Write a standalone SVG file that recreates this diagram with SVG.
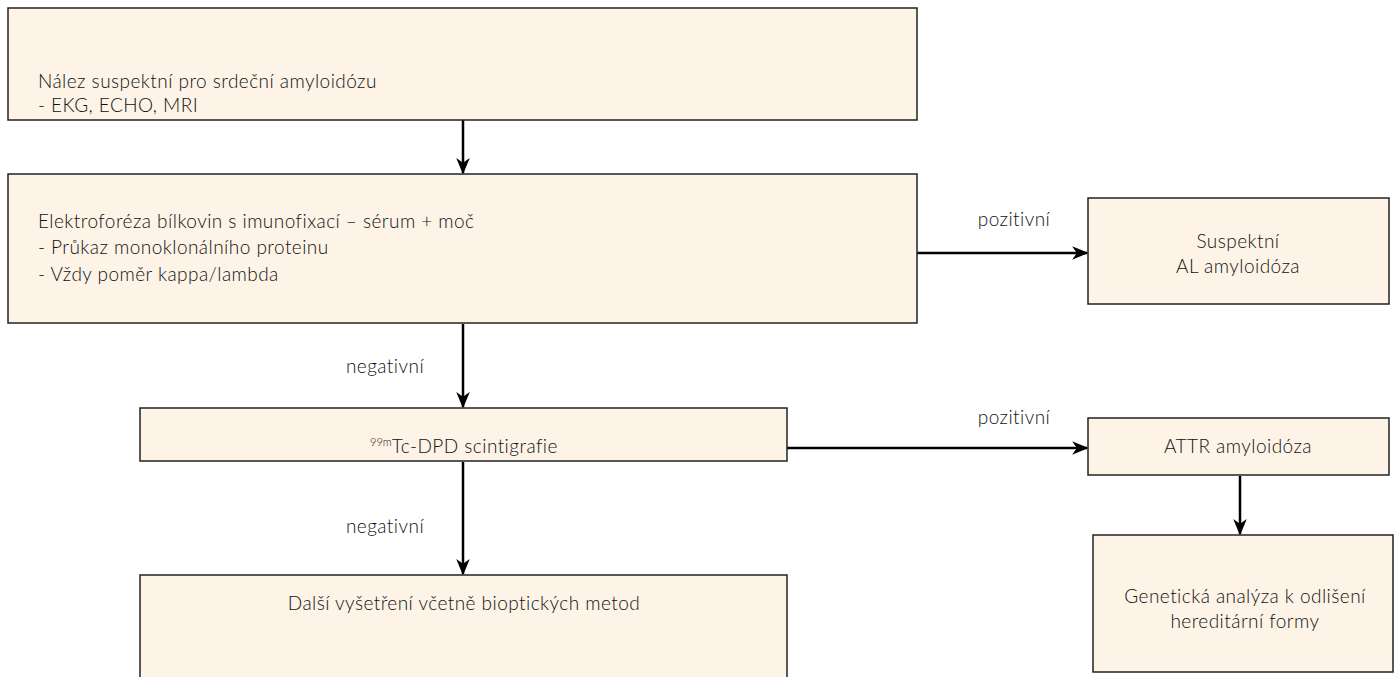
<svg xmlns="http://www.w3.org/2000/svg" width="1397" height="677" viewBox="0 0 1397 677">
<defs>
<style>
.box{fill:#fdf3e7;stroke:#222;stroke-width:1.5}
.t{font-family:Lato,"Open Sans",sans-serif;font-weight:300;font-size:19px;letter-spacing:0.45px;fill:#111}
.c{text-anchor:middle}
.edge{stroke:#000;stroke-width:2.5;fill:none}
</style>
<marker id="ah" viewBox="0 0 12 10" refX="11" refY="5" markerWidth="6.5" markerHeight="5.5" markerUnits="strokeWidth" orient="auto">
<path d="M0,0 L12,5 L0,10 L3.5,5 z" fill="#000"/>
</marker>
</defs>
<rect width="1397" height="677" fill="#fff"/>
<g id="connectors">
<line class="edge" x1="463" y1="120" x2="463" y2="173" marker-end="url(#ah)"/>
<line class="edge" x1="917" y1="253" x2="1087" y2="253" marker-end="url(#ah)"/>
<line class="edge" x1="463" y1="324" x2="463" y2="407" marker-end="url(#ah)"/>
<line class="edge" x1="787" y1="448" x2="1087" y2="448" marker-end="url(#ah)"/>
<line class="edge" x1="1240" y1="476" x2="1240" y2="534" marker-end="url(#ah)"/>
<line class="edge" x1="463" y1="462" x2="463" y2="574" marker-end="url(#ah)"/>
<text class="t c" x="1014" y="226">pozitivní</text>
<text class="t c" x="385" y="373">negativní</text>
<text class="t c" x="1014" y="424">pozitivní</text>
<text class="t c" x="385" y="533">negativní</text>
</g>
<g id="n1">
<rect class="box" x="8" y="8" width="909" height="112"/>
<text class="t" x="38" y="88">Nález suspektní pro srdeční amyloidózu</text>
<text class="t" x="38" y="112">- EKG, ECHO, MRI</text>
</g>
<g id="n2">
<rect class="box" x="8" y="174" width="909" height="149"/>
<text class="t" x="38" y="228">Elektroforéza bílkovin s imunofixací – sérum + moč</text>
<text class="t" x="38" y="254">- Průkaz monoklonálního proteinu</text>
<text class="t" x="38" y="281">- Vždy poměr kappa/lambda</text>
</g>
<g id="n3">
<rect class="box" x="1088" y="198" width="301" height="106"/>
<text class="t c" x="1238" y="248">Suspektní</text>
<text class="t c" x="1238" y="273">AL amyloidóza</text>
</g>
<g id="n4">
<rect class="box" x="140" y="408" width="647" height="53"/>
<text class="t c" x="464" y="453"><tspan font-size="11" letter-spacing="0" dy="-7">99m</tspan><tspan dy="7">Tc-DPD scintigrafie</tspan></text>
</g>
<g id="n5">
<rect class="box" x="1088" y="418" width="301" height="57"/>
<text class="t c" x="1238" y="453">ATTR amyloidóza</text>
</g>
<g id="n6">
<rect class="box" x="1093" y="535" width="300" height="137"/>
<text class="t c" x="1245" y="603">Genetická analýza k odlišení</text>
<text class="t c" x="1245" y="628">hereditární formy</text>
</g>
<g id="n7">
<rect class="box" x="140" y="575" width="647" height="110"/>
<text class="t c" x="464" y="610">Další vyšetření včetně bioptických metod</text>
</g>
</svg>
